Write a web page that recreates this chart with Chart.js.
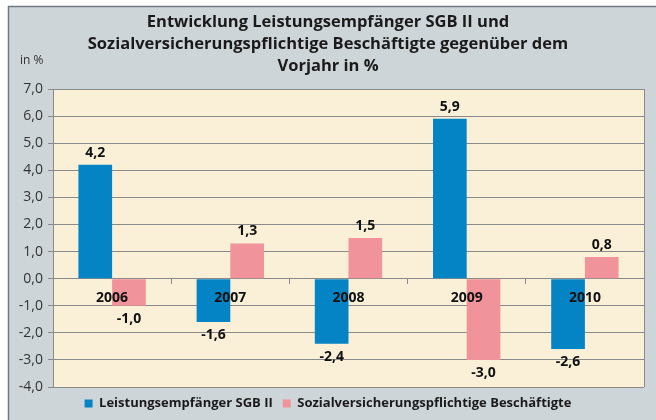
<!DOCTYPE html>
<html lang="de">
<head>
<meta charset="utf-8">
<title>Entwicklung Leistungsempfänger SGB II</title>
<script src="https://cdn.jsdelivr.net/npm/chart.js@4/dist/chart.umd.min.js"></script>
<style>
  body { margin: 0; background: #fff; }
  canvas { display: block; }
</style>
</head>
<body>
<canvas id="sgbChart" width="656" height="420"></canvas>
<script>
// Daten
const jahre = ["2006", "2007", "2008", "2009", "2010"];
const leistungsempfaenger = [4.2, -1.6, -2.4, 5.9, -2.6];
const beschaeftigte = [-1.0, 1.3, 1.5, -3.0, 0.8];
const titelZeilen = [
  "Entwicklung Leistungsempfänger SGB II und",
  "Sozialversicherungspflichtige Beschäftigte gegenüber dem",
  "Vorjahr in %"
];
const yMin = -4, yMax = 7, yStep = 1;

const FONT = "'Open Sans', 'DejaVu Sans', sans-serif";
const komma = v => v.toFixed(1).replace(".", ",");

// Rahmen + Hintergrund der Zeichenfläche
const rahmenPlugin = {
  id: "rahmen",
  beforeDraw(chart) {
    const ctx = chart.ctx, a = chart.chartArea;
    ctx.save();
    ctx.fillStyle = "#ffffff";
    ctx.fillRect(0, 0, chart.width, chart.height);
    ctx.fillStyle = "#ced5d9";
    ctx.strokeStyle = "#737a7f";
    ctx.lineWidth = 1.5;
    ctx.fillRect(8, 6, chart.width, chart.height);
    ctx.strokeRect(8.5, 6.5, chart.width, chart.height);
    ctx.fillStyle = "#faf0d7";
    ctx.fillRect(a.left, a.top, a.right - a.left, a.bottom - a.top);
    ctx.strokeStyle = "#8a8a8a";
    ctx.lineWidth = 1;
    ctx.beginPath();
    ctx.moveTo(Math.round(a.right) + 0.5, a.top);
    ctx.lineTo(Math.round(a.right) + 0.5, a.bottom);
    ctx.stroke();
    // Einheit
    ctx.fillStyle = "#333";
    ctx.font = "12px " + FONT;
    ctx.textAlign = "left";
    ctx.textBaseline = "middle";
    ctx.fillText("in %", 20, 61);
    ctx.restore();
  }
};

// Werte an den Balken
const wertePlugin = {
  id: "werte",
  afterDatasetsDraw(chart) {
    const ctx = chart.ctx;
    ctx.save();
    ctx.font = "bold 14px " + FONT;
    ctx.fillStyle = "#111";
    ctx.textAlign = "center";
    ctx.textBaseline = "middle";
    chart.data.datasets.forEach((ds, i) => {
      chart.getDatasetMeta(i).data.forEach((bar, j) => {
        const v = ds.data[j];
        const y = v >= 0 ? bar.y - 12 : bar.y + 13;
        ctx.fillText(komma(v), bar.x, y);
      });
    });
    ctx.restore();
  }
};

new Chart(document.getElementById("sgbChart"), {
  type: "bar",
  data: {
    labels: jahre,
    datasets: [{
      label: "Leistungsempfänger SGB II",
      data: leistungsempfaenger,
      backgroundColor: "#0584c5",
      categoryPercentage: 0.57,
      barPercentage: 1.0
    },
    {
      label: "Sozialversicherungspflichtige Beschäftigte",
      data: beschaeftigte,
      backgroundColor: "#f0939a",
      categoryPercentage: 0.57,
      barPercentage: 1.0
    }]
  },
  options: {
    responsive: false,
    animation: false,
    devicePixelRatio: 1,
    layout: { padding: 0 },
    plugins: {
      title: {
        display: true,
        text: titelZeilen,
        color: "#1a1a1a",
        font: { family: FONT, size: 16.5, weight: "bold", lineHeight: "22px" },
        padding: { top: 11, bottom: 12 }
      },
      legend: {
        position: "bottom",
        labels: {
          boxWidth: 8,
          boxHeight: 8,
          padding: 10,
          color: "#1a1a1a",
          font: { family: FONT, size: 13, weight: "bold" }
        }
      },
      tooltip: { enabled: false }
    },
    scales: {
      x: {
        position: { y: 0 },
        grid: {
          offset: true,
          drawOnChartArea: false,
          tickLength: 5,
          color: "#8a8a8a"
        },
        border: { color: "#8a8a8a" },
        ticks: {
          z: 1, // Jahreszahlen über den Balken
          padding: 6,
          color: "#111",
          font: { family: FONT, size: 14, weight: "bold" }
        }
      },
      y: {
        min: yMin,
        max: yMax,
        afterFit(scale) { scale.width = 53; },
        grid: { color: "#8a8a8a", tickLength: 5 },
        border: { color: "#8a8a8a" },
        ticks: {
          stepSize: yStep,
          padding: 5,
          color: "#333",
          font: { family: FONT, size: 14 },
          callback: v => komma(v)
        }
      },
      // nur Abstand rechts
      rechts: {
        position: "right",
        afterFit(scale) { scale.width = 12; },
        grid: { display: false },
        border: { display: false },
        ticks: { display: false }
      }
    }
  },
  plugins: [rahmenPlugin, wertePlugin]
});
</script>
</body>
</html>
